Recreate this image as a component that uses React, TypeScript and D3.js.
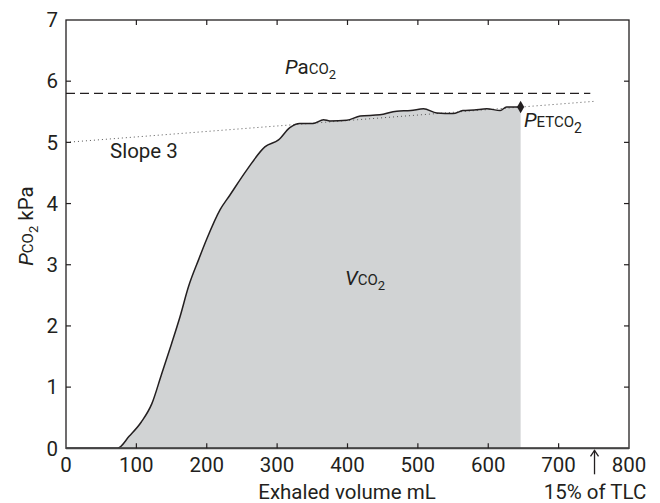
import React from 'react';
import * as d3 from 'd3';

// exhaled volume (mL) vs PCO2 (kPa)
const volume = [0, 73, 90, 107, 122, 136, 150, 162, 174, 189, 200, 219, 233, 257, 283, 302, 318, 332, 351, 366, 375, 399, 418, 446, 470, 490, 508, 527, 550, 564, 580, 598, 617, 626, 646];
const pco2 = [0, 0, 0.2, 0.43, 0.73, 1.22, 1.71, 2.15, 2.64, 3.1, 3.42, 3.9, 4.14, 4.55, 4.93, 5.04, 5.24, 5.31, 5.31, 5.37, 5.35, 5.36, 5.43, 5.45, 5.51, 5.52, 5.55, 5.48, 5.47, 5.52, 5.53, 5.55, 5.52, 5.58, 5.58];

const xTicks = [0, 100, 200, 300, 400, 500, 600, 700, 800];
const yTicks = [0, 1, 2, 3, 4, 5, 6, 7];

const paco2 = 5.8;
const paco2Extent = [0, 745];
const slopeX = [0, 750];
const slopeY = [5.0, 5.67];
const endTidal = { v: 646, p: 5.58 };
const tlc15 = 751;

const width = 660;
const height = 503;
const margin = { top: 20, right: 31, bottom: 55, left: 66 };
const ink = '#231f20';
const font = 'Roboto, "DejaVu Sans", sans-serif';
const fs = 20.5;   // main text size
const sc = 15;     // small caps size
const sub = 13;    // subscript size

export default function App() {
    const x = d3.scaleLinear().domain([0, 800]).range([margin.left, width - margin.right]);
    const y = d3.scaleLinear().domain([0, 7]).range([height - margin.bottom + 0.3, margin.top]);

    const pts = volume.map((v, i) => ({ v, p: pco2[i] }));
    const line = d3.line<{ v: number; p: number }>().x(d => x(d.v)).y(d => y(d.p)).curve(d3.curveMonotoneX);
    const area = d3.area<{ v: number; p: number }>().x(d => x(d.v)).y0(y(0)).y1(d => y(d.p)).curve(d3.curveMonotoneX);

    const x0 = x(0), x1 = x(800), y0 = y(0), y1 = y(7);
    const tick = 5;

    return (
        <svg width={width} height={height} style={{ position: 'absolute', left: 0, top: 0, background: '#fff' }}
            fontFamily={font} fill={ink}>
            {/* shaded VCO2 area */}
            <path d={area(pts) || ''} fill="#d1d3d4" stroke="none" />

            {/* PaCO2 dashed line */}
            <line x1={x(paco2Extent[0])} x2={x(paco2Extent[1])} y1={y(paco2)} y2={y(paco2)}
                stroke={ink} strokeWidth={1.3} strokeDasharray="9,5" />

            {/* phase 3 slope, dotted */}
            <line x1={x(slopeX[0])} x2={x(slopeX[1])} y1={y(slopeY[0])} y2={y(slopeY[1])}
                stroke="#555" strokeWidth={1} strokeDasharray="1,3" />

            {/* capnogram */}
            <path d={line(pts) || ''} fill="none" stroke={ink} strokeWidth={1.5} strokeLinejoin="round" />

            {/* end-tidal marker */}
            <path d={d3.symbol().type(d3.symbolDiamond).size(45)() || ''}
                transform={`translate(${x(endTidal.v)},${y(endTidal.p)})`} fill={ink} />

            {/* frame */}
            <rect x={x0} y={y1} width={x1 - x0} height={y0 - y1} fill="none" stroke={ink} strokeWidth={1.3} />
            <line x1={x0} x2={x1} y1={y0} y2={y0} stroke="#444" strokeWidth={2} />

            {/* inward ticks, all four sides */}
            {xTicks.slice(1, -1).map(t => (
                <g key={'xt' + t} stroke={ink} strokeWidth={1.2}>
                    <line x1={x(t)} x2={x(t)} y1={y0} y2={y0 - tick} />
                    <line x1={x(t)} x2={x(t)} y1={y1} y2={y1 + tick} />
                </g>
            ))}
            {yTicks.slice(1, -1).map(t => (
                <g key={'yt' + t} stroke={ink} strokeWidth={1.2}>
                    <line x1={x0} x2={x0 + tick} y1={y(t)} y2={y(t)} />
                    <line x1={x1} x2={x1 - tick} y1={y(t)} y2={y(t)} />
                </g>
            ))}

            {/* tick labels */}
            {xTicks.map(t => (
                <text key={'xl' + t} x={x(t)} y={472} textAnchor="middle" fontSize={fs}>{t}</text>
            ))}
            {yTicks.map(t => (
                <text key={'yl' + t} x={58} y={y(t) + 7.3} textAnchor="end" fontSize={fs}>{t}</text>
            ))}

            {/* axis titles */}
            <text x={347} y={499} textAnchor="middle" fontSize={fs}>Exhaled volume mL</text>
            <text x={595} y={499} textAnchor="middle" fontSize={fs}>15% of TLC</text>
            <g stroke={ink} strokeWidth={1.3} fill="none">
                <line x1={x(tlc15)} x2={x(tlc15)} y1={y0 + 2} y2={y0 + 26} />
                <path d={`M${x(tlc15) - 4},${y0 + 8} L${x(tlc15)},${y0 + 2} L${x(tlc15) + 4},${y0 + 8}`} />
            </g>
            <text transform="translate(33,226) rotate(-90)" textAnchor="middle" fontSize={fs}>
                <tspan fontStyle="italic">P</tspan>
                <tspan fontSize={sc}>CO</tspan>
                <tspan fontSize={sub} dy={5}>2</tspan>
                <tspan dy={-5}> kPa</tspan>
            </text>

            {/* annotations */}
            <text x={285} y={74} fontSize={fs}>
                <tspan fontStyle="italic">P</tspan>
                <tspan>a</tspan>
                <tspan fontSize={sc}>CO</tspan>
                <tspan fontSize={sub} dy={5}>2</tspan>
            </text>
            <text x={110} y={158} fontSize={fs}>Slope 3</text>
            <text x={524} y={127} fontSize={fs}>
                <tspan fontStyle="italic">P</tspan>
                <tspan fontSize={sc}>ETCO</tspan>
                <tspan fontSize={sub + 1} dy={6}>2</tspan>
            </text>
            <text x={345} y={285} fontSize={fs}>
                <tspan fontStyle="italic">V</tspan>
                <tspan fontSize={sc}>CO</tspan>
                <tspan fontSize={sub} dy={5}>2</tspan>
            </text>
        </svg>
    );
}
